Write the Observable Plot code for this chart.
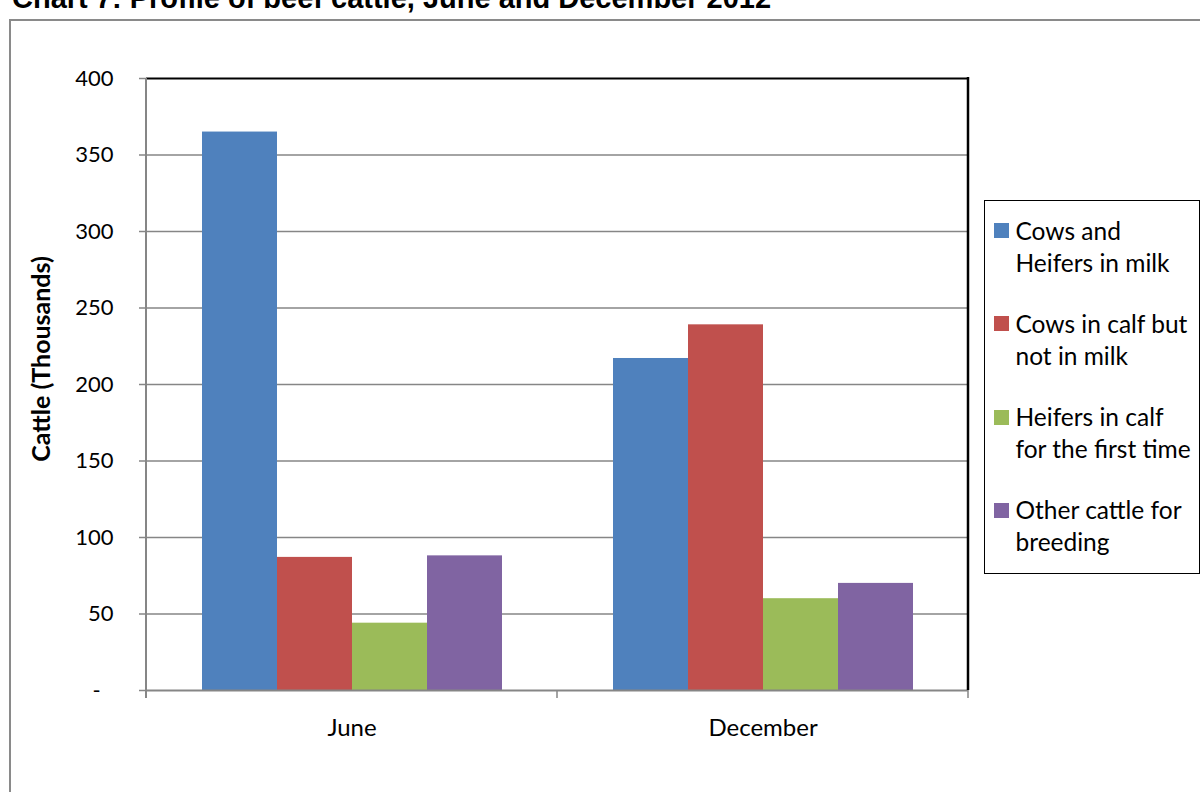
<!DOCTYPE html>
<html>
<head>
<meta charset="utf-8">
<script src="https://cdn.jsdelivr.net/npm/d3@7"></script>
<script src="https://cdn.jsdelivr.net/npm/@observablehq/plot@0.6"></script>
<style>
  body { margin: 0; background: #fff; }
  #chart { position: relative; width: 1200px; height: 792px; overflow: hidden; font-family: Lato, sans-serif; color: #000; }
  #title { position: absolute; left: 12px; top: -16px; font: bold 29px/29px "Liberation Sans", Arial, sans-serif; white-space: nowrap; }
  #border { position: absolute; left: 9px; top: 19px; width: 1400px; height: 1000px; border: 2px solid #8a8a8a; }
  #plot { position: absolute; left: 0; top: 0; }
  #ytitle { position: absolute; left: 40px; top: 359px; transform: translate(-50%, -50%) rotate(-90deg); font: bold 25px Lato, sans-serif; white-space: nowrap; }
  #legend { position: absolute; left: 984px; top: 200px; width: 216px; height: 374px; box-sizing: border-box; border: 1.5px solid #000; background: #fff; padding-top: 13.5px; }
  .item { position: relative; padding-left: 30.5px; font-size: 24.5px; line-height: 32px; margin-bottom: 29.3px; white-space: nowrap; }
  .swatch { position: absolute; left: 8.5px; top: 8.5px; width: 15px; height: 15px; }
</style>
</head>
<body>
<div id="chart">
  <div id="border"></div>
  <div id="title"></div>
  <div id="plot"></div>
  <div id="ytitle"></div>
  <div id="legend"></div>
</div>
<script>
// Beef cattle numbers (thousands) by category, June and December 2012
const months = ["June", "December"];
const series = [
  "Cows and Heifers in milk",
  "Cows in calf but not in milk",
  "Heifers in calf for the first time",
  "Other cattle for breeding"
];
const legendLines = [
  ["Cows and", "Heifers in milk"],
  ["Cows in calf but", "not in milk"],
  ["Heifers in calf", "for the first time"],
  ["Other cattle for", "breeding"]
];
const juneValues = [365, 87, 44, 88];
const decemberValues = [217, 239, 60, 70];
const seriesColors = ["#4f81bd", "#c0504d", "#9bbb59", "#8064a2"];
const yTicks = [0, 50, 100, 150, 200, 250, 300, 350, 400];
const yTickLabels = ["-\u2007", "50", "100", "150", "200", "250", "300", "350", "400"];
const titleText = "Chart 7: Profile of beef cattle, June and December 2012";
const yTitle = "Cattle (Thousands)";

const valuesByMonth = {June: juneValues, December: decemberValues};
const rows = months.flatMap(m => series.map((s, i) => ({month: m, series: s, value: valuesByMonth[m][i]})));

const gridColor = "#868686";

const plot = Plot.plot({
  width: 980,
  height: 792,
  marginLeft: 146,
  marginRight: 12,
  marginTop: 78,
  marginBottom: 102,
  style: {fontFamily: "Lato, sans-serif", fontSize: "22px", color: "#000", background: "transparent"},
  fx: {domain: months, padding: 0},
  x: {domain: series, paddingInner: 0, paddingOuter: 0.74, axis: null},
  y: {domain: [0, 400]},
  color: {domain: series, range: seriesColors},
  marks: [
    Plot.ruleY(yTicks.filter(t => t > 0 && t < 400), {stroke: gridColor, strokeWidth: 1.5}),
    Plot.ruleY([400], {stroke: "#000", strokeWidth: 2}),
    Plot.barY(rows, {fx: "month", x: "series", y: "value", fill: "series"}),
    Plot.ruleY([0], {stroke: gridColor, strokeWidth: 2}),
    Plot.axisY({
      ticks: yTicks,
      tickFormat: d => yTickLabels[yTicks.indexOf(d)],
      tickSize: 7,
      tickPadding: 26,
      stroke: gridColor,
      strokeWidth: 1.5,
      fontSize: 22,
      label: null
    }),
    Plot.axisFx({anchor: "bottom", tickSize: 0, tickPadding: 28, fontSize: 24, label: null})
  ]
});

// Left axis line, right frame edge and category boundary ticks, placed with the plot's own scales
const fx = plot.scale("fx");
const y = plot.scale("y");
const edges = months.map(m => fx.apply(m)).concat([fx.apply(months[months.length - 1]) + fx.bandwidth]);
const y0 = y.apply(0), yTop = y.apply(400);
const deco = d3.select(plot).append("g");
deco.append("line")
  .attr("x1", edges[0]).attr("x2", edges[0]).attr("y1", yTop).attr("y2", y0 + 8)
  .attr("stroke", gridColor).attr("stroke-width", 2);
deco.selectAll(".btick").data(edges.slice(1)).join("line")
  .attr("x1", d => d).attr("x2", d => d).attr("y1", y0).attr("y2", y0 + 8)
  .attr("stroke", gridColor).attr("stroke-width", 1.5);
deco.append("line")
  .attr("x1", edges[edges.length - 1]).attr("x2", edges[edges.length - 1]).attr("y1", yTop - 1).attr("y2", y0)
  .attr("stroke", "#000").attr("stroke-width", 2.5);

document.getElementById("plot").appendChild(plot);
document.getElementById("title").textContent = titleText;
document.getElementById("ytitle").textContent = yTitle;

const legend = d3.select("#legend");
const items = legend.selectAll(".item").data(series).join("div").attr("class", "item");
items.append("div").attr("class", "swatch").style("background", (d, i) => seriesColors[i]);
items.each(function(d, i) {
  const el = d3.select(this);
  legendLines[i].forEach(line => el.append("div").text(line));
});
</script>
</body>
</html>
